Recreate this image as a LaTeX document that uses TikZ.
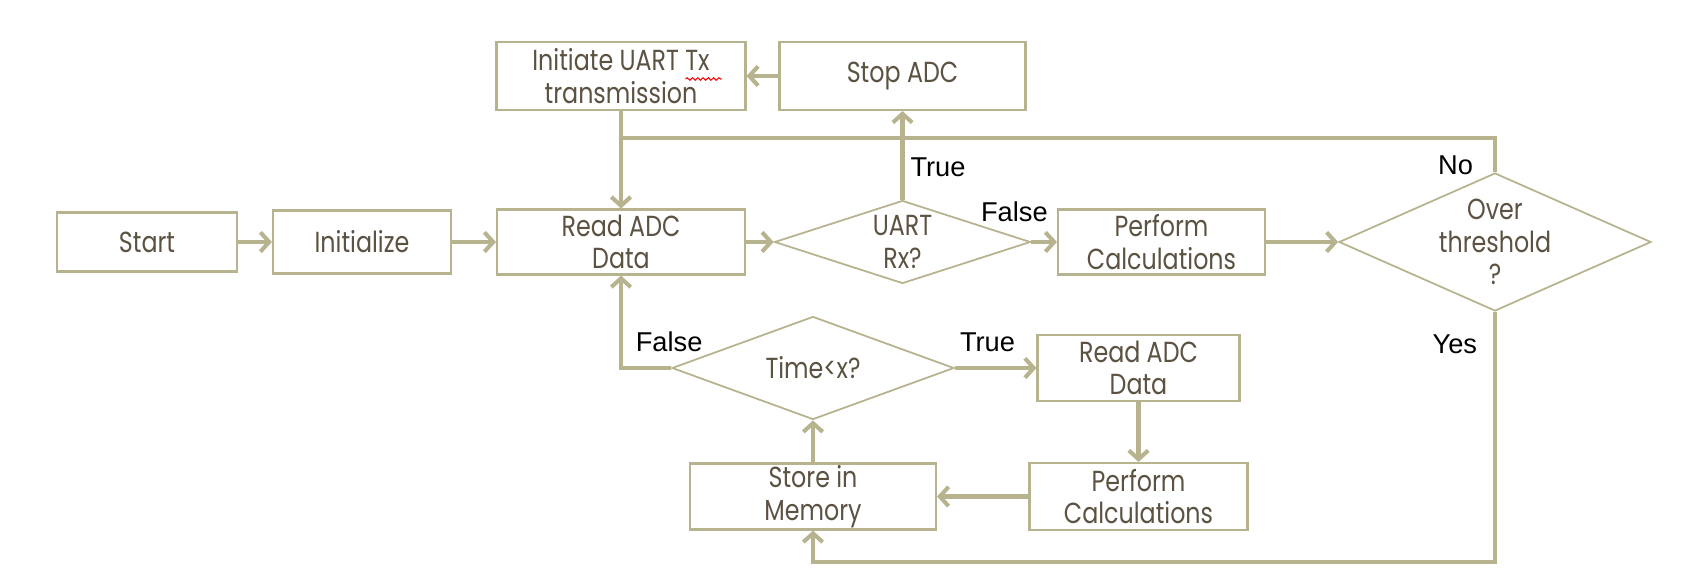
\documentclass[tikz,border=0pt]{standalone}
\usepackage{fontspec}
\setmainfont[FakeStretch=0.82]{Poppins}
\newfontfamily\labelfont{Liberation Sans}
\usetikzlibrary{shapes.geometric, arrows.meta, decorations.pathmorphing}

\definecolor{flowline}{HTML}{B8B38F}
\definecolor{flowtext}{HTML}{5B5242}

\tikzset{
  box/.style={rectangle, draw=flowline, line width=1.2pt, text=flowtext, align=center, inner sep=0pt, font=\fontsize{16.5}{18.5}\selectfont},
  decision/.style={diamond, draw=flowline, line width=1pt, text=flowtext, align=center, inner sep=0pt, font=\fontsize{16.5}{18.5}\selectfont},
  flow/.style={draw=flowline, line width=2.3pt, -{Straight Barb[length=5pt,width=11pt]}},
  joinline/.style={draw=flowline, line width=2.3pt},
  lbl/.style={text=black, inner sep=0pt, font=\labelfont\fontsize{15.5}{18}\selectfont},
  spellwave/.style={draw=red, line width=0.6pt, decorate, decoration={snake, amplitude=0.7pt, segment length=3pt}}
}

\begin{document}
\begin{tikzpicture}
\useasboundingbox[fill=white] (0,0) rectangle (33.74,-11.34);

\node[box, minimum width=3.6cm, minimum height=1.18cm] (start) at (2.94,-4.84) {Start};
\node[box, minimum width=3.56cm, minimum height=1.26cm] (init) at (7.24,-4.84) {Initialize};
\node[box, minimum width=4.96cm, minimum height=1.3cm] (read) at (12.42,-4.84) {Read ADC\\Data};
\node[decision, minimum width=5.12cm, minimum height=1.66cm, aspect=3.1] (uart) at (18.05,-4.84) {UART\\Rx?};
\node[box, minimum width=4.14cm, minimum height=1.3cm] (calc) at (23.23,-4.84) {Perform\\Calculations};
\node[decision, minimum width=6.24cm, minimum height=2.76cm, aspect=2.26] (over) at (29.9,-4.84) {Over\\threshold\\?};

\node[box, minimum width=4.98cm, minimum height=1.36cm] (initiate) at (12.42,-1.52) {Initiate UART Tx\\transmission};
\node[box, minimum width=4.92cm, minimum height=1.36cm] (stop) at (18.05,-1.52) {Stop ADC};

\node[decision, minimum width=5.64cm, minimum height=2.06cm, aspect=2.74] (timex) at (16.26,-7.36) {Time<x?};
\node[box, minimum width=4.04cm, minimum height=1.32cm] (read2) at (22.77,-7.36) {Read ADC\\Data};
\node[box, minimum width=4.36cm, minimum height=1.34cm] (calc2) at (22.77,-9.93) {Perform\\Calculations};
\node[box, minimum width=4.92cm, minimum height=1.32cm] (store) at (16.26,-9.93) {Store in\\Memory};

% wavy underline under Tx
\draw[spellwave] ([xshift=-1.22cm, yshift=-0.06cm]initiate.east) -- ([xshift=-0.5cm, yshift=-0.06cm]initiate.east);

\coordinate (join) at (12.42,-2.76);
\coordinate (loopend) at (29.9,-11.24);

\draw[flow] (start) -- (init);
\draw[flow] (init) -- (read);
\draw[flow] (read) -- (uart);
\draw[flow] (uart) -- node[lbl, at start, xshift=-0.34cm, yshift=0.6cm]{False} (calc);
\draw[flow] (calc) -- (over);
\draw[flow] (uart) -- node[lbl, pos=0.37, right=0.12cm]{True} (stop);
\draw[flow] (stop) -- (initiate);
\draw[flow] (initiate) -- (read);
\draw[joinline] (over.north) -- node[lbl, pos=0.2, left=0.4cm]{No} (over.north |- join) -- (join);
\draw[flow] (over.south) -- node[lbl, pos=0.13, left=0.32cm]{Yes} (loopend) -| (store.south);

\draw[flow] (timex) -- node[lbl, pos=0.4, above=0.28cm]{True} (read2);
\draw[flow] (read2) -- (calc2);
\draw[flow] (calc2) -- (store);
\draw[flow] (store) -- (timex);
\draw[flow] (timex.west) -- node[lbl, at start, above=0.28cm, xshift=-0.04cm]{False} (read.south |- timex.west) -- (read.south);
\end{tikzpicture}
\end{document}
